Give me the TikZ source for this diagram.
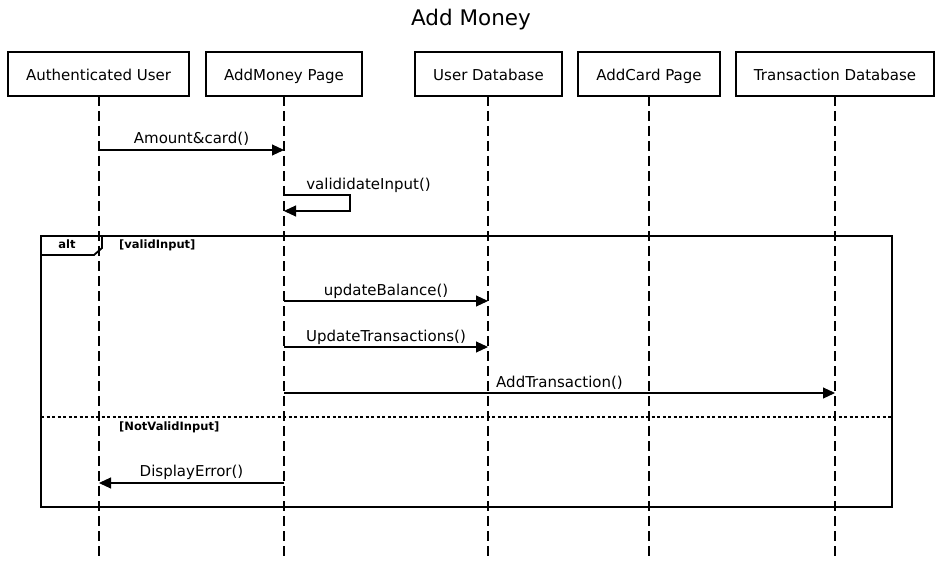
\documentclass[tikz,border=0pt]{standalone}
\usepackage{fontspec}
\setmainfont{DejaVu Sans}
\usetikzlibrary{arrows.meta}
\begin{document}
\begin{tikzpicture}[x=1pt,y=-1pt,
  actor/.style={draw,line width=2pt,fill=white,minimum height=44pt,inner sep=0pt,text height=11pt,text depth=3.5pt,font=\fontsize{15}{17}\selectfont},
  lifeline/.style={line width=1.1pt,dash pattern=on 10pt off 5pt},
  msg/.style={line width=1.1pt,-{Triangle[length=12pt,width=11pt]}},
  lbl/.style={font=\fontsize{15}{17}\selectfont,inner sep=0pt,text height=11pt,text depth=3.5pt},
  guard/.style={font=\bfseries\fontsize{11.5}{13}\selectfont,inner sep=0pt,anchor=west,text height=8.5pt,text depth=2.5pt},
  frame/.style={line width=2pt}]
\useasboundingbox (0,0) rectangle (942,564);
\node[lbl,font=\fontsize{21.5}{24}\selectfont,text height=15.5pt,text depth=4.5pt] (title) at (471,20) {Add Money};
% lifelines
\coordinate (ltop1) at (99,96); \coordinate (lbot1) at (99,558);
\coordinate (ltop2) at (284,96); \coordinate (lbot2) at (284,558);
\coordinate (ltop3) at (488,96); \coordinate (lbot3) at (488,558);
\coordinate (ltop4) at (649,96); \coordinate (lbot4) at (649,558);
\coordinate (ltop5) at (835,96); \coordinate (lbot5) at (835,558);
\foreach \i in {1,...,5} {\draw[lifeline] (ltop\i) -- (lbot\i);}
% actors
\node[actor,minimum width=181pt] (user) at (98.5,74) {\raisebox{-2.5pt}{Authenticated User}};
\node[actor,minimum width=156pt] (addmoney) at (284,74) {\raisebox{-2.5pt}{AddMoney Page}};
\node[actor,minimum width=147pt] (userdb) at (488.5,74) {\raisebox{-2.5pt}{User Database}};
\node[actor,minimum width=142pt] (addcard) at (649,74) {\raisebox{-2.5pt}{AddCard Page}};
\node[actor,minimum width=198pt] (transdb) at (835,74) {\raisebox{-2.5pt}{Transaction Database}};
% message 1
\coordinate (m1a) at (99,150); \coordinate (m1b) at (284,150);
\draw[msg] (m1a) -- (m1b);
\node[lbl] (l1) at (191.5,139.5) {Amount\&card()};
% self message
\coordinate (s1) at (284,195); \coordinate (s2) at (350,195);
\coordinate (s3) at (350,211); \coordinate (s4) at (284,211);
\draw[msg] (s1) -- (s2) -- (s3) -- (s4);
\node[lbl] (l2) at (368.5,185.5) {valididateInput()};
% alt frame
\coordinate (f1) at (41,236); \coordinate (f2) at (892,507);
\draw[frame] (f1) rectangle (f2);
\coordinate (t1) at (102,236); \coordinate (t2) at (102,248);
\coordinate (t3) at (94,255); \coordinate (t4) at (41,255);
\draw[frame,line width=1.8pt] (t1) -- (t2) -- (t3) -- (t4);
\node[guard,anchor=center] (alt) at (67,245.5) {alt};
\node[guard] (g1) at (119,245.5) {[validInput]};
% separator
\coordinate (d1) at (41,417); \coordinate (d2) at (892,417);
\draw[line width=1.6pt,dash pattern=on 3pt off 2.5pt] (d1) -- (d2);
\node[guard] (g2) at (119,427.5) {[NotValidInput]};
% updateBalance
\coordinate (m3a) at (284,301); \coordinate (m3b) at (488,301);
\draw[msg] (m3a) -- (m3b);
\node[lbl] (l3) at (386,291.5) {updateBalance()};
% UpdateTransactions
\coordinate (m4a) at (284,347); \coordinate (m4b) at (488,347);
\draw[msg] (m4a) -- (m4b);
\node[lbl] (l4) at (386,337.5) {UpdateTransactions()};
% AddTransaction
\coordinate (m5a) at (284,393); \coordinate (m5b) at (835,393);
\draw[msg] (m5a) -- (m5b);
\node[lbl] (l5) at (559.5,383.5) {AddTransaction()};
% DisplayError
\coordinate (m6a) at (284,483); \coordinate (m6b) at (99,483);
\draw[msg] (m6a) -- (m6b);
\node[lbl] (l6) at (191.5,472.5) {DisplayError()};
\end{tikzpicture}
\end{document}
